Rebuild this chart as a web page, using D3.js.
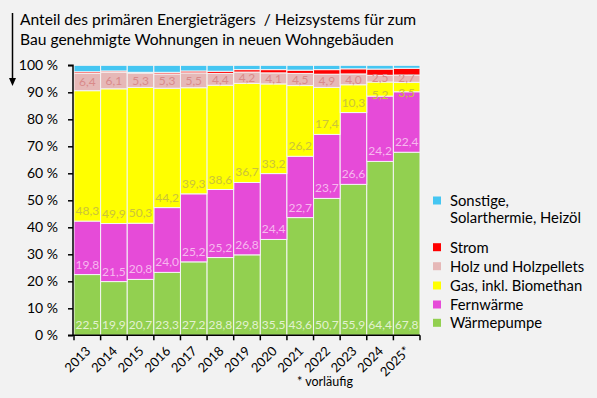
<!DOCTYPE html>
<html><head><meta charset="utf-8">
<script src="https://cdn.jsdelivr.net/npm/d3@7"></script>
<style>
html,body{margin:0;padding:0;background:#f2f2f2;}
svg{display:block;font-family:Lato, "Open Sans", sans-serif;}
</style></head>
<body>
<svg id="c" width="597" height="398"></svg>
<script>
const years = ["2013","2014","2015","2016","2017","2018","2019","2020","2021","2022","2023","2024","2025*"];
const waermepumpe = [22.5,19.9,20.7,23.3,27.2,28.8,29.8,35.5,43.6,50.7,55.9,64.4,67.8];
const fernwaerme  = [19.8,21.5,20.8,24.0,25.2,25.2,26.8,24.4,22.7,23.7,26.6,24.2,22.4];
const gas         = [48.3,49.9,50.3,44.2,39.3,38.6,36.7,33.2,26.2,17.4,10.3,5.2,3.5];
const holz        = [6.4,6.1,5.3,5.3,5.5,4.4,4.2,4.1,4.5,4.9,4.0,2.5,2.7];
const strom       = [0.6,0.5,0.3,0.6,0.7,0.8,0.9,1.2,1.2,1.7,1.9,2.3,2.5];
const sonstige    = [2.4,2.1,2.6,2.6,2.1,2.2,1.6,1.6,1.8,1.6,1.3,1.4,1.1];
const yTicks = [0,10,20,30,40,50,60,70,80,90,100];
const seriesNames = ["Wärmepumpe","Fernwärme","Gas, inkl. Biomethan","Holz und Holzpellets","Strom","Sonstige, Solarthermie, Heizöl"];
const seriesData = [waermepumpe, fernwaerme, gas, holz, strom, sonstige];
const colors = ["#92d050","#e64bd8","#ffff00","#e6b8b7","#ff0000","#45c6f2"];
const labelColors = ["#e2f2d0","#f7b8ef","#cbc43a","#d98a8a",null,null];
const showLabels = [true,true,true,true,false,false];

const svg = d3.select("#c");
const x = d3.scaleBand().domain(years).range([74, 420]).padding(0);
const y = d3.scaleLinear().domain([0,100]).range([335.3, 65.3]);

const rows = years.map((yr,i)=>{const o={year:yr}; seriesNames.forEach((s,k)=>o[s]=seriesData[k][i]); return o;});
const stack = d3.stack().keys(seriesNames)(rows);

const g = svg.append("g");
stack.forEach((layer,k)=>{
  g.selectAll(null).data(layer).join("rect")
    .attr("x", d=>x(d.data.year))
    .attr("width", x.bandwidth())
    .attr("y", d=>y(d[1]))
    .attr("height", d=>y(d[0])-y(d[1]))
    .attr("fill", colors[k])
    .attr("stroke", "#f4f4f4")
    .attr("stroke-width", 1);
});
const fmt = v => v.toFixed(1).replace(".", ",");
const isSmall = (layer,i) => (y(layer[i][0]) - y(layer[i][1])) < 20;
stack.forEach((layer,k)=>{
  if(!showLabels[k]) return;
  g.selectAll(null).data(layer).join("text")
    .attr("x", d=>x(d.data.year)+x.bandwidth()/2)
    .attr("y", (d,i)=>{
      const b=y(d[0]), t=y(d[1]);
      if (b-t < 20) {
        let yy = (b+t)/2+4.3;
        // separate neighbouring labels of two small stacked segments
        if (k>0 && showLabels[k-1] && isSmall(stack[k-1],i)) yy -= 1;
        if (k<stack.length-1 && showLabels[k+1] && isSmall(stack[k+1],i)) yy += 5.5;
        return yy;
      }
      return b-6;
    })
    .attr("text-anchor","middle")
    .attr("font-size",12)
    .attr("fill", labelColors[k])
    .text((d,i)=>fmt(seriesData[k][i]));
});

// axes
const yAxis = d3.axisLeft(y).tickValues(yTicks).tickSize(5).tickFormat(d=>d+" %");
const ya = svg.append("g").attr("transform","translate(73,0)").call(yAxis);
ya.select(".domain").attr("stroke","#000").attr("stroke-width",1.5).attr("d","M-5,65.3H0V335.3H-5");
ya.selectAll(".tick line").attr("stroke","#000").attr("stroke-width",1.5);
ya.selectAll(".tick text").attr("font-size",14).attr("fill","#000").attr("font-family","Lato").attr("x",-15);

const xa = svg.append("g").attr("transform","translate(0,335.3)");
xa.append("line").attr("x1",73).attr("x2",420).attr("y1",0).attr("y2",0).attr("stroke","#000").attr("stroke-width",1.5);
const bounds = years.map(d=>x(d)).concat([x(years[years.length-1])+x.bandwidth()]);
xa.selectAll(null).data(bounds).join("line")
  .attr("x1",d=>d).attr("x2",d=>d).attr("y1",0).attr("y2",5).attr("stroke","#000").attr("stroke-width",1.5);
xa.selectAll(null).data(years).join("text")
  .attr("transform", d=>`translate(${x(d)+x.bandwidth()/2-2.5},10) rotate(-45)`)
  .attr("text-anchor","end").attr("dy","0.72em")
  .attr("font-size",13).attr("fill","#000")
  .text(d=>d);

// title
const title = svg.append("text").attr("x",20).attr("font-size",15.6).attr("fill","#000").style("white-space","pre");
title.append("tspan").attr("x",20).attr("y",25).text("Anteil des primären Energieträgers  / Heizsystems für zum");
title.append("tspan").attr("x",20).attr("y",45).text("Bau genehmigte Wohnungen in neuen Wohngebäuden");

// arrow
svg.append("line").attr("x1",12.5).attr("x2",12.5).attr("y1",13).attr("y2",80).attr("stroke","#000").attr("stroke-width",1.5);
svg.append("path").attr("d","M9,78 L16,78 L12.5,86 Z").attr("fill","#000");

// legend
const legendItems = [
  {k:5, lines:["Sonstige,","Solarthermie, Heizöl"], y:206},
  {k:4, lines:["Strom"], y:252.7},
  {k:3, lines:["Holz und Holzpellets"], y:271.7},
  {k:2, lines:["Gas, inkl. Biomethan"], y:291},
  {k:1, lines:["Fernwärme"], y:310},
  {k:0, lines:["Wärmepumpe"], y:328.3}
];
const lg = svg.append("g");
legendItems.forEach(it=>{
  lg.append("rect").attr("x",433).attr("y",it.y-9.5).attr("width",8).attr("height",8).attr("fill",colors[it.k]);
  const t = lg.append("text").attr("font-size",14.8).attr("fill","#000");
  it.lines.forEach((l,i)=>t.append("tspan").attr("x",450).attr("y",it.y+i*16.7).text(l));
});

// footnote
svg.append("text").attr("x",297).attr("y",386).attr("font-size",12.5).attr("fill","#000").text("* vorläufig");
</script>
</body></html>
